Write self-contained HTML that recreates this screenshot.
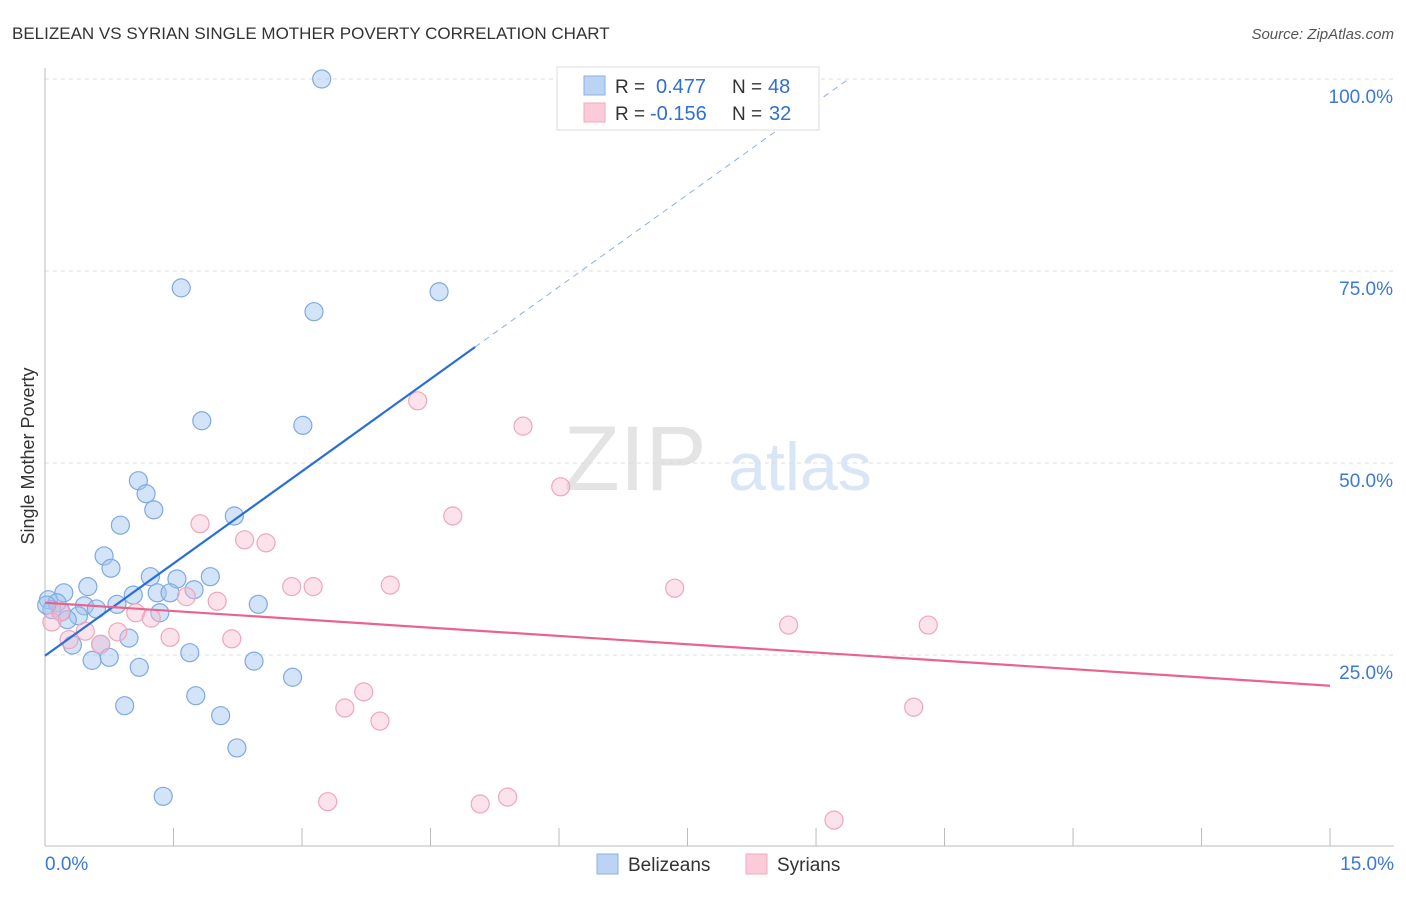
<!DOCTYPE html>
<html><head><meta charset="utf-8"><style>
body{margin:0;background:#fff;font-family:"Liberation Sans",sans-serif;}
svg text{font-family:"Liberation Sans",sans-serif;}
</style></head><body>
<svg id="c" width="1406" height="892">
<text x="12" y="39" font-size="17" fill="#333">BELIZEAN VS SYRIAN SINGLE MOTHER POVERTY CORRELATION CHART</text>
<text x="1394" y="39" font-size="15" fill="#555" font-style="italic" text-anchor="end">Source: ZipAtlas.com</text>
<text x="635" y="490" font-size="92" fill="#e4e4e4" font-family="Liberation Serif" text-anchor="middle">ZIP</text>
<text x="800" y="490" font-size="68" fill="#d8e6f6" text-anchor="middle">atlas</text>
<text transform="translate(34,456) rotate(-90)" font-size="18" fill="#333" text-anchor="middle">Single Mother Poverty</text>
<g id="grid"></g><g id="axes"></g><g id="pts"></g><g id="lines"></g>
<g>
<rect x="557" y="67" width="262" height="63" fill="#fff" stroke="#ddd"/>
<rect x="584" y="76" width="21" height="19" fill="#bcd4f4" stroke="#8ab0e4"/>
<rect x="584" y="103" width="21" height="19" fill="#fbcbd9" stroke="#f0a8bd"/>
<text x="615" y="93" font-size="19" fill="#333">R =</text>
<text x="656" y="93" font-size="20" fill="#2f6fd0">0.477</text>
<text x="732" y="93" font-size="19" fill="#333">N =</text>
<text x="768" y="93" font-size="20" fill="#2f6fd0">48</text>
<text x="615" y="120" font-size="19" fill="#333">R =</text>
<text x="650" y="120" font-size="20" fill="#2f6fd0">-0.156</text>
<text x="732" y="120" font-size="19" fill="#333">N =</text>
<text x="769" y="120" font-size="20" fill="#2f6fd0">32</text>
</g>
<g>
<rect x="597" y="854" width="21" height="20" fill="#bcd4f4" stroke="#8ab0e4"/>
<text x="628" y="871" font-size="19" fill="#333">Belizeans</text>
<rect x="746" y="854" width="21" height="20" fill="#fbcbd9" stroke="#f0a8bd"/>
<text x="777" y="871" font-size="19" fill="#333">Syrians</text>
</g>
</svg>
<script>
const blueX=[3.23,1.59,3.14,4.60,1.83,3.01,1.09,1.18,1.27,2.21,0.88,0.69,0.77,1.23,1.54,1.93,0.50,0.22,1.03,1.31,1.46,1.74,0.04,0.14,0.46,0.60,0.84,2.49,0.08,0.19,0.39,0.26,1.34,0.98,0.32,0.65,1.69,0.55,0.75,1.10,2.44,2.89,1.76,0.93,2.05,2.24,1.38,0.02];
const blueY=[100,72.8,69.7,72.3,55.5,54.9,47.7,46.0,43.9,43.1,41.9,37.9,36.3,35.2,34.9,35.2,33.9,33.1,32.8,33.1,33.1,33.5,32.2,31.8,31.4,31.0,31.6,31.6,30.9,30.6,30.1,29.6,30.5,27.2,26.3,26.4,25.3,24.3,24.7,23.4,24.2,22.1,19.7,18.4,17.1,12.9,6.6,31.5];
const pinkX=[4.35,5.58,6.02,4.76,1.81,2.33,2.58,4.03,2.88,3.13,7.35,1.65,2.01,1.06,1.24,0.18,0.08,0.47,0.85,1.46,2.18,0.28,0.65,8.68,10.31,3.72,3.50,3.91,10.14,3.30,5.08,5.40,9.21];
const pinkY=[58.1,54.8,46.9,43.1,42.1,40.0,39.6,34.1,33.9,33.9,33.7,32.6,32.0,30.5,29.8,30.6,29.3,28.1,28.0,27.3,27.1,27.0,26.4,28.9,28.9,20.2,18.1,16.4,18.2,5.9,5.6,6.5,3.5];
const yTicks=[25,50,75,100];
const xTickLabels=["0.0%","15.0%"];
const blueTrend=[[0,24.9],[5.02,65.1],[9.38,100]];
const pinkTrend=[[0,31.8],[15,21.0]];
const NS="http://www.w3.org/2000/svg";
const sx=v=>45+v*85.67, sy=v=>847-v*7.68;
function mk(t,a,p){const e=document.createElementNS(NS,t);for(const k in a)e.setAttribute(k,a[k]);p.appendChild(e);return e;}
const grid=document.getElementById('grid'),axes=document.getElementById('axes'),pts=document.getElementById('pts'),lines=document.getElementById('lines');
yTicks.forEach(t=>{
 const l=mk('line',{x1:45,x2:1394,y1:sy(t),y2:sy(t),stroke:'#ddd','stroke-dasharray':'4,4'},grid);
 
 
 const tx=mk('text',{x:1393,y:sy(t)+24,'font-size':19,fill:'#3a78d8','text-anchor':'end'},grid);
 tx.textContent=t.toFixed(1)+'%';
 
 
});
const ax=mk('line',{x1:45,x2:45,y1:68,y2:846,stroke:'#bbb'},axes);


const bx=mk('line',{x1:45,x2:1394,y1:846,y2:846,stroke:'#bbb'},axes);


for(let i=0;i<=10;i++){
 const t=mk('line',{x1:sx(i*1.5),x2:sx(i*1.5),y1:828,y2:846,stroke:'#bbb'},axes);
 
 
}
[[0,'start',45],[15,'end',1394]].forEach((d,i)=>{
 const tx=mk('text',{x:d[2],y:870,'font-size':19,fill:'#3a78d8','text-anchor':d[1]},axes);
 tx.textContent=xTickLabels[i];
 
 
});
blueX.forEach((x,i)=>{
 const c=mk('circle',{cx:sx(x),cy:sy(blueY[i]),r:9,fill:'rgba(160,196,240,0.45)',stroke:'#7ea9e2','stroke-width':1.2},pts);
 
 
});
pinkX.forEach((x,i)=>{
 const c=mk('circle',{cx:sx(x),cy:sy(pinkY[i]),r:9,fill:'rgba(248,185,205,0.4)',stroke:'#f0a5bb','stroke-width':1.2},pts);
 
 
});
const b1=mk('line',{x1:sx(blueTrend[0][0]),y1:sy(blueTrend[0][1]),x2:sx(blueTrend[1][0]),y2:sy(blueTrend[1][1]),stroke:'#2a6fd6','stroke-width':2.2},lines);


const b2=mk('line',{x1:sx(blueTrend[1][0]),y1:sy(blueTrend[1][1]),x2:sx(blueTrend[2][0]),y2:sy(blueTrend[2][1]),stroke:'#8ab0e4','stroke-width':1,'stroke-dasharray':'6,5'},lines);


const p1=mk('line',{x1:sx(pinkTrend[0][0]),y1:sy(pinkTrend[0][1]),x2:sx(pinkTrend[1][0]),y2:sy(pinkTrend[1][1]),stroke:'#e8648f','stroke-width':2.2},lines);


</script>
</body></html>
